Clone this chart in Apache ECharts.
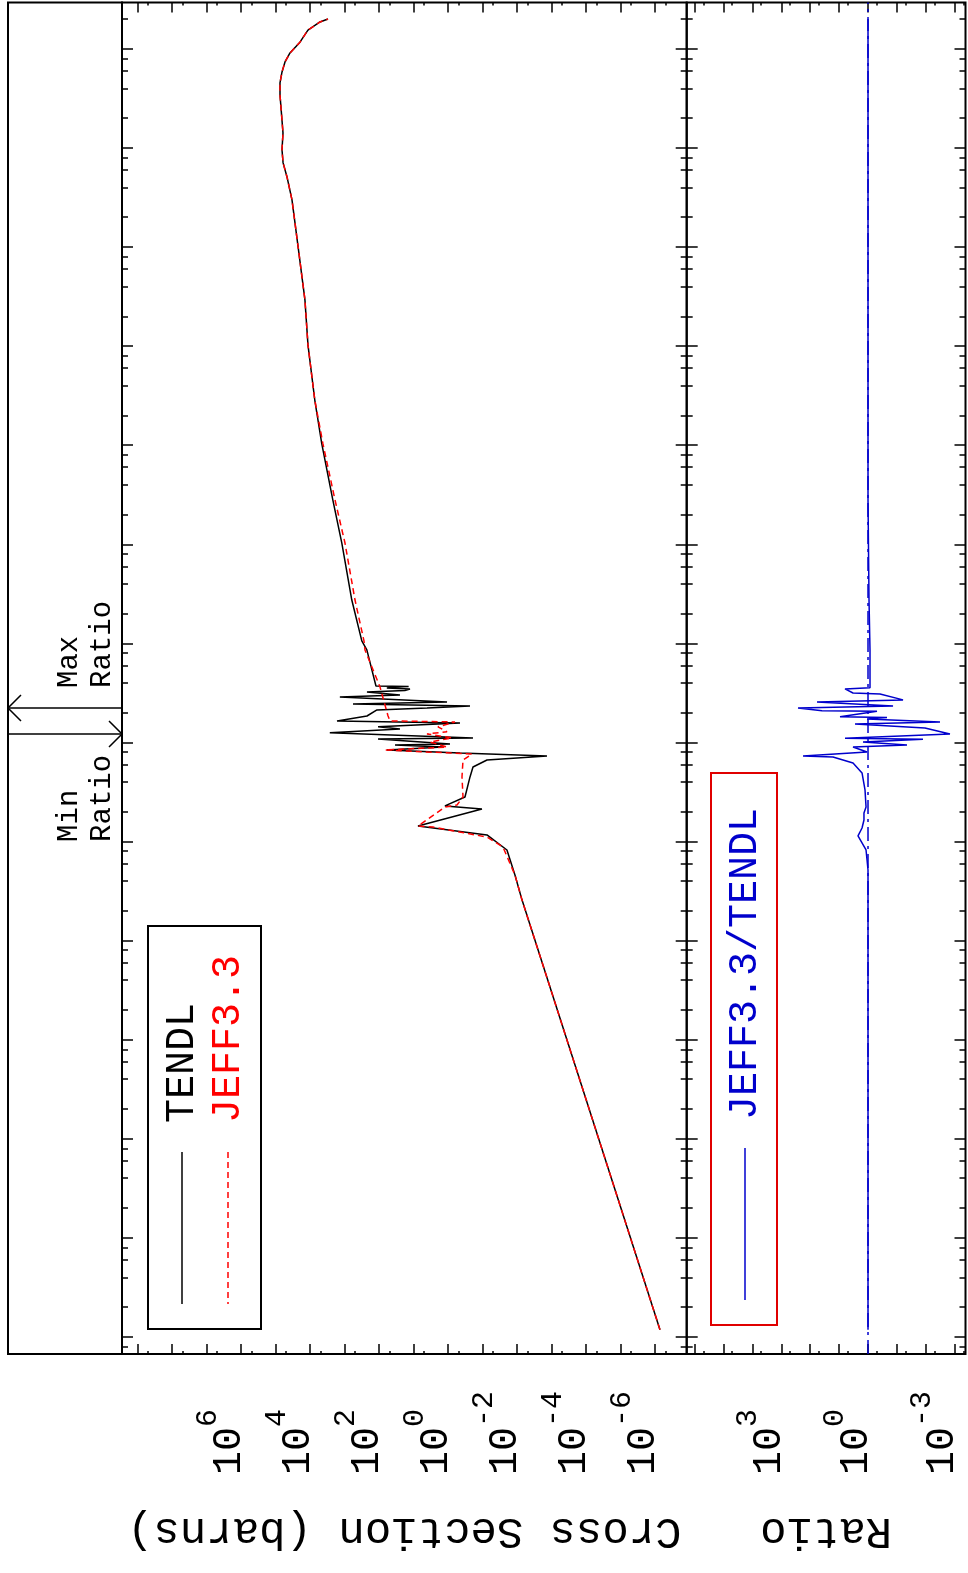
<!DOCTYPE html>
<html><head><meta charset="utf-8">
<script src="https://cdn.jsdelivr.net/npm/echarts@6/dist/echarts.min.js"></script>
<style>html,body{margin:0;padding:0;background:#fff}#c{width:968px;height:1573px}</style>
</head><body><div id="c"></div>
<script>
// ---- data (energy in eV, cross sections in barns) ----
const tendlEnergy = [1.18e-5, 0.258, 0.46, 0.822, 1.167, 1.436, 2.13, 2.29, 2.82, 4.49, 5.66, 6.66, 7.31, 7.83, 8.39, 9.0, 9.44, 9.66, 10.86, 11.1, 12.5, 13.7, 14.4, 15.7, 16.5, 18.5, 21.3, 22.3, 23.4, 24.5, 25.6, 28.8, 30.2, 32.4, 33.5, 34.7, 35.4, 36.3, 36.8, 37.2, 85.9, 106, 274, 1030, 2810, 1.03e4, 2.86e4, 1.03e5, 2.93e5, 1.03e6, 2.99e6, 5.1e6, 7.07e6, 9.55e6, 1.42e7, 3.43e7, 4.53e7, 5.85e7, 7.38e7, 9.1e7, 1.17e8, 1.55e8, 1.87e8, 2.0e8];
const tendlXS = [7.26e-7, 7.26e-3, 0.0116, 0.0198, 0.075, 7.5, 0.105, 1.24, 0.326, 0.233, 0.191, 0.075, 1.37e-3, 0.455, 59.4, 1.41, 34.8, 0.887, 108, 0.191, 2700, 25, 108, 0.455, 1670, 226, 116, 4.12, 0.233, 574, 1.08, 1380, 25, 226, 18, 12.8, 60, 34.8, 14, 124, 228, 319, 622, 1210, 2210, 4610, 7360, 1.16e4, 1.42e4, 2.26e4, 3.37e4, 4.7e4, 6.1e4, 6.56e4, 6.14e4, 7.5e4, 7.5e4, 6.56e4, 5.37e4, 3.85e4, 1.98e4, 1.16e4, 5200, 3050];
const jeffEnergy = [1.18e-5, 0.258, 0.46, 0.881, 1.11, 1.40, 1.436, 2.23, 2.34, 2.82, 4.49, 6.66, 7.65, 8.39, 9.0, 10.1, 11.1, 12.2, 12.8, 14.4, 16.1, 16.5, 18.6, 36.4, 85.9, 106, 274, 1030, 2810, 1.03e4, 2.86e4, 1.03e5, 2.93e5, 1.03e6, 2.99e6, 5.1e6, 7.07e6, 9.55e6, 1.42e7, 3.43e7, 4.53e7, 5.85e7, 7.38e7, 9.1e7, 1.17e8, 1.55e8, 1.87e8, 2.0e8];
const jeffXS = [7.26e-7, 7.26e-3, 0.0116, 0.0258, 0.075, 2.76, 7.5, 1.24, 0.556, 0.372, 0.398, 0.372, 0.204, 67.9, 1.08, 3.37, 0.776, 4.12, 1.08, 1.98, 0.635, 48.6, 55.6, 94.9, 258, 276, 502, 980, 1910, 4260, 7360, 1.16e4, 1.42e4, 2.26e4, 3.37e4, 4.7e4, 6.1e4, 6.56e4, 6.14e4, 7.5e4, 7.5e4, 6.56e4, 5.37e4, 3.85e4, 1.98e4, 1.16e4, 5200, 3050];
const ratioEnergy = [1.18e-5, 0.516, 0.652, 0.822, 1.14, 1.37, 1.65, 1.94, 2.23, 3.32, 4.92, 6.21, 7.14, 7.31, 8.02, 9.01, 9.44, 10.1, 10.8, 11.0, 12.2, 14.0, 15.4, 16.1, 17.3, 17.9, 18.2, 20.7, 20.9, 22.3, 23.4, 25.6, 26.9, 30.9, 31.6, 34.7, 35.6, 85.9, 274, 2806, 2.0e8];
const ratioValue = [1.0, 1.0, 1.08, 1.17, 2.22, 1.61, 1.38, 1.38, 1.17, 1.27, 1.61, 3.3, 16.3, 177, 1.08, 3.3, 0.0448, 1.49, 0.0125, 6.25, 1.46e-3, 0.0107, 2.82, 3.23e-3, 1.08, 0.22, 9.3, 0.489, 39.1, 264, 0.136, 58.2, 0.0615, 0.384, 3.3, 6.25, 0.853, 0.853, 0.923, 1.0, 1.0];
const energyRange = [6.73e-6, 2.94e8];
const xsRange = [1.22e-7, 2.85e9];
const ratioRange = [4.23e-4, 1.88e6];
const xsTickLabels = [1e6, 1e4, 1e2, 1, 1e-2, 1e-4, 1e-6];
const ratioTickLabels = [1e3, 1, 1e-3];
const legendNames = ['TENDL', 'JEFF3.3', 'JEFF3.3/TENDL'];
const xsTitle = 'Cross Section (barns)';
const ratioTitle = 'Ratio';

const FONT = 'Liberation Mono';
const BLUE = '#0000cc', RED = '#ff0000';

function inRange(v, r) { return v >= r[0] * 0.999999 && v <= r[1] * 1.000001; }
function powers(mults, r) {
  const out = [];
  for (let n = -12; n <= 12; n++) for (const m of mults) { const v = Number(m + 'e' + n); if (inRange(v, r)) out.push(v); }
  return out;
}
const eMajor = powers([1], energyRange), eMinor = powers([2, 4, 6, 8], energyRange);
const xsMajor = powers([1], xsRange), xsMinor = powers([5], xsRange);
const rMajor = powers([1], ratioRange), rMinor = powers([5], ratioRange);

function logAxis(grid, pos, range, ticks, len, inverse, more) {
  return Object.assign({
    type: 'log', logBase: 10, gridIndex: grid, position: pos, min: range[0], max: range[1], inverse: inverse,
    axisLine: { show: false, onZero: false }, splitLine: { show: false }, minorTick: { show: false },
    axisTick: { show: true, inside: true, length: len, customValues: ticks, lineStyle: { color: '#000', width: 1.5 } },
    axisLabel: { show: false }
  }, more || {});
}
function labelCfg(vals) {
  return {
    show: true, customValues: vals, rotate: 90, margin: 121, align: 'left', verticalAlign: 'bottom', color: '#000',
    fontFamily: FONT,
    formatter: function (v) { const e = Math.round(Math.log10(v)); return '{m|10}{s|' + e + '}'; },
    rich: {
      m: { fontSize: 40, fontFamily: FONT, lineHeight: 40, padding: [16, 0, 0, 0], color: '#000' },
      s: { fontSize: 30, fontFamily: FONT, lineHeight: 30, padding: [0, 0, 26, 0], color: '#000' }
    }
  };
}
function nameCfg(name, gap) {
  return { name: name, nameLocation: 'middle', nameRotate: 180, nameGap: gap,
    nameTextStyle: { fontSize: 44, fontFamily: FONT, color: '#000' } };
}

const gTop = 2.5, gBottom = 1573 - 1354;
const grids = [
  { left: 122, top: gTop, width: 564.7, bottom: gBottom },
  { left: 686.7, top: gTop, width: 278.8, bottom: gBottom },
  { left: 8, top: gTop, width: 114, bottom: gBottom }
].map(g => Object.assign({ show: true, borderColor: '#000', borderWidth: 2, backgroundColor: 'transparent', containLabel: false }, g));

const xAxes = [
  logAxis(0, 'bottom', xsRange, xsMajor, 10, true, Object.assign({ axisLabel: labelCfg(xsTickLabels) }, nameCfg(xsTitle, 155))),
  logAxis(0, 'bottom', xsRange, xsMinor, 3, true),
  logAxis(0, 'top', xsRange, xsMajor, 10, true),
  logAxis(0, 'top', xsRange, xsMinor, 3, true),
  logAxis(1, 'bottom', ratioRange, rMajor, 10, true, Object.assign({ axisLabel: labelCfg(ratioTickLabels) }, nameCfg(ratioTitle, 155))),
  logAxis(1, 'bottom', ratioRange, rMinor, 3, true),
  logAxis(1, 'top', ratioRange, rMajor, 10, true),
  logAxis(1, 'top', ratioRange, rMinor, 3, true),
  { type: 'value', gridIndex: 2, min: 0, max: 1, show: false }
];
const yAxes = [
  logAxis(0, 'left', energyRange, eMajor, 11, false),
  logAxis(0, 'left', energyRange, eMinor, 6, false),
  logAxis(0, 'right', energyRange, eMajor, 11, false),
  logAxis(0, 'right', energyRange, eMinor, 6, false),
  logAxis(1, 'left', energyRange, eMajor, 11, false),
  logAxis(1, 'left', energyRange, eMinor, 6, false),
  logAxis(1, 'right', energyRange, eMajor, 11, false),
  logAxis(1, 'right', energyRange, eMinor, 6, false),
  { type: 'log', logBase: 10, gridIndex: 2, min: energyRange[0], max: energyRange[1], show: false }
];

const pair = (xs, es) => es.map((e, i) => [xs[i], e]);
let iMax = 0, iMin = 0;
ratioValue.forEach((v, i) => { if (v > ratioValue[iMax]) iMax = i; if (v < ratioValue[iMin]) iMin = i; });
const arrowData = [[0, ratioEnergy[iMax], 1], [0, ratioEnergy[iMin], -1]];

const series = [
  { name: legendNames[0], type: 'line', xAxisIndex: 0, yAxisIndex: 0, data: pair(tendlXS, tendlEnergy), showSymbol: false, symbol: 'none',
    lineStyle: { color: '#000', width: 1.5 }, silent: true, z: 3 },
  { name: legendNames[1], type: 'line', xAxisIndex: 0, yAxisIndex: 0, data: pair(jeffXS, jeffEnergy), showSymbol: false, symbol: 'none',
    lineStyle: { color: RED, width: 1.5, type: [6, 4] }, silent: true, z: 4 },
  { name: 'one', type: 'line', xAxisIndex: 4, yAxisIndex: 4, data: [[1, energyRange[0]], [1, energyRange[1]]], showSymbol: false, symbol: 'none',
    lineStyle: { color: BLUE, width: 1.5, type: [14, 5, 3, 5] }, silent: true, z: 3 },
  { name: legendNames[2], type: 'line', xAxisIndex: 4, yAxisIndex: 4, data: pair(ratioValue, ratioEnergy), showSymbol: false, symbol: 'none',
    lineStyle: { color: BLUE, width: 1.5 }, silent: true, z: 4 },
  { type: 'custom', xAxisIndex: 8, yAxisIndex: 8, data: arrowData, silent: true, z: 5,
    renderItem: function (params, api) {
      const E = api.value(1), dir = api.value(2);
      const p0 = api.coord([0, E]), p1 = api.coord([1, E]);
      const y = p0[1], h = 13;
      const tip = dir > 0 ? p0[0] : p1[0], s = dir > 0 ? 1 : -1;
      const cx = (p0[0] + p1[0]) / 2 + 21;
      return { type: 'group', children: [
        { type: 'line', shape: { x1: p0[0], y1: y, x2: p1[0], y2: y }, style: { stroke: '#000', lineWidth: 1.5 } },
        { type: 'polyline', shape: { points: [[tip + s * h, y - h], [tip, y], [tip + s * h, y + h]] }, style: { stroke: '#000', fill: null, lineWidth: 1.5 } },
        { type: 'text', x: cx, y: dir > 0 ? y - 20 : y + 108, rotation: Math.PI / 2,
          style: { text: dir > 0 ? 'Max\nRatio' : 'Min\nRatio', fontSize: 29, fontFamily: FONT, fill: '#000', lineHeight: 33,
            align: 'left', verticalAlign: 'middle', textAlign: 'left', textVerticalAlign: 'middle' } }
      ] };
    } }
];

function vtext(x, y, text, color) {
  return { type: 'text', x: x, y: y, rotation: Math.PI / 2, z: 12,
    style: { text: text, fontSize: 40, fontFamily: FONT, fill: color, align: 'left', verticalAlign: 'middle', textAlign: 'left', textVerticalAlign: 'middle' } };
}
const graphic = [
  { type: 'rect', z: 10, shape: { x: 148, y: 926, width: 113, height: 403 }, style: { fill: '#fff', stroke: '#000', lineWidth: 2 } },
  { type: 'line', z: 11, shape: { x1: 182, y1: 1152, x2: 182, y2: 1304 }, style: { stroke: '#000', lineWidth: 1.5 } },
  vtext(182, 1123, legendNames[0], '#000'),
  { type: 'line', z: 11, shape: { x1: 228, y1: 1152, x2: 228, y2: 1304 }, style: { stroke: RED, lineWidth: 1.5, lineDash: [6, 4] } },
  vtext(228, 1123, legendNames[1], RED),
  { type: 'rect', z: 10, shape: { x: 711, y: 773, width: 66, height: 552 }, style: { fill: '#fff', stroke: '#e00000', lineWidth: 2 } },
  { type: 'line', z: 11, shape: { x1: 745, y1: 1148, x2: 745, y2: 1300 }, style: { stroke: BLUE, lineWidth: 1.5 } },
  vtext(745, 1120, legendNames[2], BLUE)
];

const chart = echarts.init(document.getElementById('c'), null, { renderer: 'canvas' });
chart.setOption({ animation: false, backgroundColor: '#fff', grid: grids, xAxis: xAxes, yAxis: yAxes, series: series, graphic: graphic });
</script></body></html>
